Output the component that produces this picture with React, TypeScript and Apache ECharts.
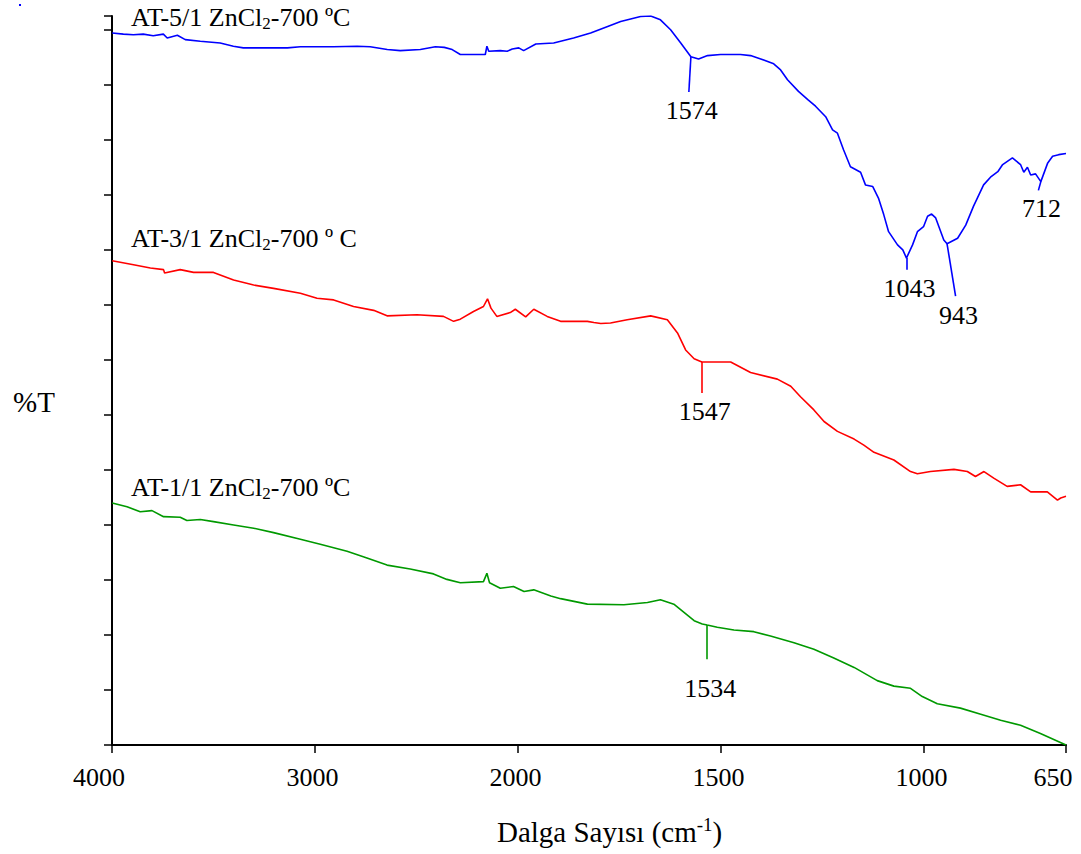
import React, { useEffect, useRef } from "react";
import * as echarts from "echarts";

// FTIR spectra, [wavenumber cm-1, %T]
const at51: [number, number][] = [
  [3999, 129.4], [3944, 129.2], [3895, 129.1], [3846, 129.2], [3797, 128.9], [3747, 129.2],
  [3728, 128.5], [3678, 129.0], [3639, 128.2], [3565, 127.9], [3467, 127.6], [3402, 127.0],
  [3353, 126.7], [3235, 126.7], [3136, 126.7], [3072, 126.9], [2910, 126.9], [2792, 127.0],
  [2728, 126.9], [2644, 126.4], [2580, 126.2], [2481, 126.4], [2407, 126.9], [2363, 126.8],
  [2324, 126.4], [2284, 125.5], [2220, 125.5], [2161, 125.5], [2153, 127.0], [2144, 126.1],
  [2087, 126.2], [2053, 126.1], [2028, 126.5], [1998, 126.7], [1986, 126.2], [1956, 127.4],
  [1912, 127.6], [1863, 128.5], [1821, 129.4], [1779, 130.6], [1747, 131.5], [1698, 132.4],
  [1673, 132.5], [1649, 131.8], [1624, 130.0], [1599, 127.6], [1574, 125.1], [1555, 124.7],
  [1533, 125.3], [1501, 125.5], [1452, 125.5], [1427, 125.3], [1402, 124.7], [1370, 123.8],
  [1353, 122.7], [1336, 120.9], [1309, 118.8], [1286, 117.3], [1267, 116.1], [1242, 114.2],
  [1225, 111.8], [1213, 111.2], [1198, 108.2], [1181, 105.1], [1156, 104.1], [1144, 101.8],
  [1126, 101.5], [1112, 99.4], [1099, 96.4], [1087, 93.3], [1065, 90.9], [1052, 90.0],
  [1043, 88.5], [1028, 90.9], [1016, 93.3], [1001, 94.2], [991, 96.1], [981, 96.5],
  [971, 95.8], [951, 91.8], [943, 91.1], [917, 92.1], [897, 94.5], [878, 97.9],
  [853, 101.8], [836, 103.2], [818, 104.2], [806, 105.5], [782, 106.7], [762, 105.5],
  [754, 104.1], [745, 105.0], [737, 103.6], [725, 103.8], [712, 102.4], [695, 105.8],
  [683, 107.0], [668, 107.3], [650, 107.5],
];

const at31: [number, number][] = [
  [3999, 88.0], [3894, 87.3], [3811, 86.7], [3746, 86.4], [3741, 85.8], [3664, 86.4],
  [3598, 85.9], [3500, 85.9], [3401, 84.5], [3302, 83.6], [3204, 83.0], [3072, 82.1],
  [2990, 81.2], [2908, 80.9], [2810, 79.7], [2711, 79.0], [2645, 78.0], [2498, 78.2],
  [2367, 77.9], [2317, 77.0], [2284, 77.4], [2219, 78.8], [2170, 79.7], [2150, 81.1],
  [2133, 79.4], [2104, 77.9], [2038, 78.6], [2013, 79.2], [1981, 77.8], [1961, 79.2],
  [1928, 77.9], [1895, 77.0], [1878, 77.0], [1829, 77.0], [1813, 76.8], [1796, 76.6],
  [1772, 76.7], [1731, 77.3], [1673, 78.0], [1632, 77.3], [1607, 74.9], [1587, 71.8],
  [1566, 70.2], [1547, 69.6], [1476, 69.6], [1427, 67.7], [1361, 66.5], [1328, 65.2],
  [1304, 63.3], [1271, 60.9], [1246, 58.8], [1213, 57.0], [1172, 55.6], [1148, 54.5],
  [1123, 53.2], [1074, 51.8], [1033, 49.7], [1016, 49.3], [984, 49.7], [926, 50.1],
  [893, 49.7], [873, 48.8], [852, 49.7], [828, 48.5], [795, 47.0], [762, 47.3],
  [737, 46.0], [696, 46.0], [671, 44.5], [663, 44.9], [650, 45.2],
];

const at11: [number, number][] = [
  [3999, 44.0], [3926, 43.3], [3861, 42.4], [3803, 42.6], [3746, 41.5], [3664, 41.4],
  [3631, 40.8], [3565, 41.0], [3500, 40.6], [3401, 40.0], [3302, 39.4], [3204, 38.6],
  [3072, 37.4], [2974, 36.5], [2842, 35.2], [2744, 34.0], [2645, 32.7], [2531, 32.0],
  [2416, 31.1], [2350, 30.1], [2284, 29.5], [2170, 29.7], [2153, 31.2], [2140, 29.5],
  [2087, 28.5], [2022, 28.8], [1985, 27.9], [1961, 28.2], [1919, 27.1], [1895, 26.6],
  [1829, 25.6], [1739, 25.5], [1681, 25.9], [1649, 26.4], [1616, 25.6], [1566, 22.6],
  [1546, 22.0], [1534, 21.8], [1509, 21.4], [1468, 20.9], [1419, 20.6], [1378, 19.8],
  [1320, 18.6], [1271, 17.4], [1222, 15.8], [1172, 14.1], [1115, 11.7], [1074, 10.7],
  [1033, 10.3], [1004, 8.8], [967, 7.5], [910, 6.7], [860, 5.6], [811, 4.5],
  [762, 3.6], [713, 2.1], [650, 0.0],
];

// labelled band positions, cm-1
const at51Peaks = [1574, 1043, 943, 712];
const at31Peaks = [1547];
const at11Peaks = [1534];

// leader lines: [shift of the lower end in cm-1, drop in %T, label gap px]
const leaderLayout: Record<number, [number, number, number]> = {
  1574: [5, 6.4, 4],
  1043: [0, 2.1, 4],
  943: [-21, 9.5, 4],
  712: [6, 1.6, 3],
  1547: [0, 5.6, 4],
  1534: [0, 6.2, 14],
};

const FONT = "Liberation Serif";
const serif = (size: number, lineHeight: number) => ({
  fontSize: size,
  fontFamily: FONT,
  fontStyle: "normal",
  fontWeight: "normal",
  color: "#000",
  fill: "#000",
  lineHeight,
});

// the wavenumber axis is drawn at half scale above 2000 cm-1
const toAxis = (w: number) => (w >= 2000 ? (4000 - w) / 2 : 1000 + (2000 - w));
const fromAxis = (t: number) => (t <= 1000 ? 4000 - 2 * t : 3000 - t);

function spectrum(name: string, data: [number, number][], color: string, peaks: number[]) {
  const valueAt = (w: number) => {
    let best = data[0];
    for (const d of data) if (Math.abs(d[0] - w) < Math.abs(best[0] - w)) best = d;
    return best[1];
  };
  return {
    type: "line",
    name,
    data: data.map(([w, v]) => [toAxis(w), v]),
    showSymbol: false,
    symbol: "none",
    silent: true,
    lineStyle: { color, width: 1.6 },
    itemStyle: { color },
    markLine: {
      silent: true,
      symbol: "none",
      animation: false,
      label: { show: false },
      lineStyle: { color, width: 1.6, type: "solid" },
      data: peaks.map((p) => {
        const [dw, dv] = leaderLayout[p];
        const v = valueAt(p);
        return [{ coord: [toAxis(p), v] }, { coord: [toAxis(p + dw), v - dv] }];
      }),
    },
    markPoint: {
      silent: true,
      symbol: "circle",
      symbolSize: 0,
      animation: false,
      itemStyle: { color: "transparent" },
      data: peaks.map((p) => {
        const [dw, dv, gap] = leaderLayout[p];
        return {
          coord: [toAxis(p + dw), valueAt(p) - dv],
          label: {
            show: true,
            position: "bottom",
            distance: gap,
            offset: [3, 0],
            formatter: `{n|${p}}`,
            ...serif(26, 30),
            rich: { n: serif(26, 30) },
          },
        };
      }),
    },
  };
}

function sampleTitle(prefix: string, suffix: string, x: number, y: number) {
  return {
    type: "text",
    x,
    y,
    silent: true,
    style: {
      text: `{a|${prefix}}{s|2}{a|${suffix}}`,
      verticalAlign: "middle",
      align: "left",
      rich: {
        a: serif(26, 30),
        s: { ...serif(17, 0), lineHeight: undefined, verticalAlign: "bottom" },
      },
    },
  };
}

export default function App() {
  const ref = useRef<HTMLDivElement>(null);

  useEffect(() => {
    const chart = echarts.init(ref.current!, null, { renderer: "svg" });
    chart.setOption({
      animation: false,
      backgroundColor: "#fff",
      textStyle: { fontFamily: FONT },
      grid: {
        left: 112,
        right: 15,
        top: 16,
        bottom: 109,
        containLabel: false,
        outerBoundsMode: "none",
      },
      xAxis: {
        type: "value",
        min: 0,
        max: toAxis(650),
        interval: 500,
        splitLine: { show: false },
        axisLine: { show: true, lineStyle: { color: "#000", width: 2 } },
        axisTick: { show: true, inside: false, length: 8, lineStyle: { color: "#000", width: 1.5 } },
        axisLabel: {
          show: true,
          margin: 17,
          showMinLabel: true,
          showMaxLabel: true,
          ...serif(26, 30),
          formatter: (t: number) => {
            const w = Math.round(fromAxis(t));
            const edge = t === 0 || t === toAxis(650);
            return `{${edge ? "e" : "m"}|${w}}`;
          },
          rich: {
            e: { ...serif(26, 30), padding: [0, 26, 0, 0] },
            m: { ...serif(26, 30), padding: [0, 5, 0, 0] },
          },
        },
      },
      yAxis: {
        type: "value",
        min: 0,
        max: 132.5,
        interval: 10,
        splitLine: { show: false },
        axisLine: { show: true, lineStyle: { color: "#000", width: 2 } },
        axisTick: { show: true, inside: false, length: 8, lineStyle: { color: "#000", width: 1.5 } },
        axisLabel: { show: false },
      },
      series: [
        spectrum("AT-5/1 ZnCl2-700 ºC", at51, "#0000FF", at51Peaks),
        spectrum("AT-3/1 ZnCl2-700 º C", at31, "#FF0000", at31Peaks),
        spectrum("AT-1/1 ZnCl2-700 ºC", at11, "#009900", at11Peaks),
      ],
      graphic: [
        sampleTitle("AT-5/1 ZnCl", "-700 ºC", 131, 17),
        sampleTitle("AT-3/1 ZnCl", "-700 º C", 131, 238),
        sampleTitle("AT-1/1 ZnCl", "-700 ºC", 131, 487),
        {
          type: "text",
          x: 13,
          y: 402,
          silent: true,
          style: {
            text: "{a|%T}",
            verticalAlign: "middle",
            rich: { a: serif(29, 32) },
          },
        },
        {
          type: "text",
          x: 497,
          y: 832,
          silent: true,
          style: {
            text: "{a|Dalga Sayısı (cm}{u|-1}{a|)}",
            verticalAlign: "middle",
            align: "left",
            rich: {
              a: serif(29, 34),
              u: { ...serif(19, 0), lineHeight: undefined, verticalAlign: "top" },
            },
          },
        },
        {
          type: "rect",
          silent: true,
          shape: { x: 19, y: 4, width: 2, height: 2 },
          style: { fill: "#0000FF" },
        },
      ],
    });
    return () => chart.dispose();
  }, []);

  return (
    <div
      ref={ref}
      style={{ position: "absolute", left: 0, top: 0, width: 1081, height: 854, background: "#fff" }}
    />
  );
}
